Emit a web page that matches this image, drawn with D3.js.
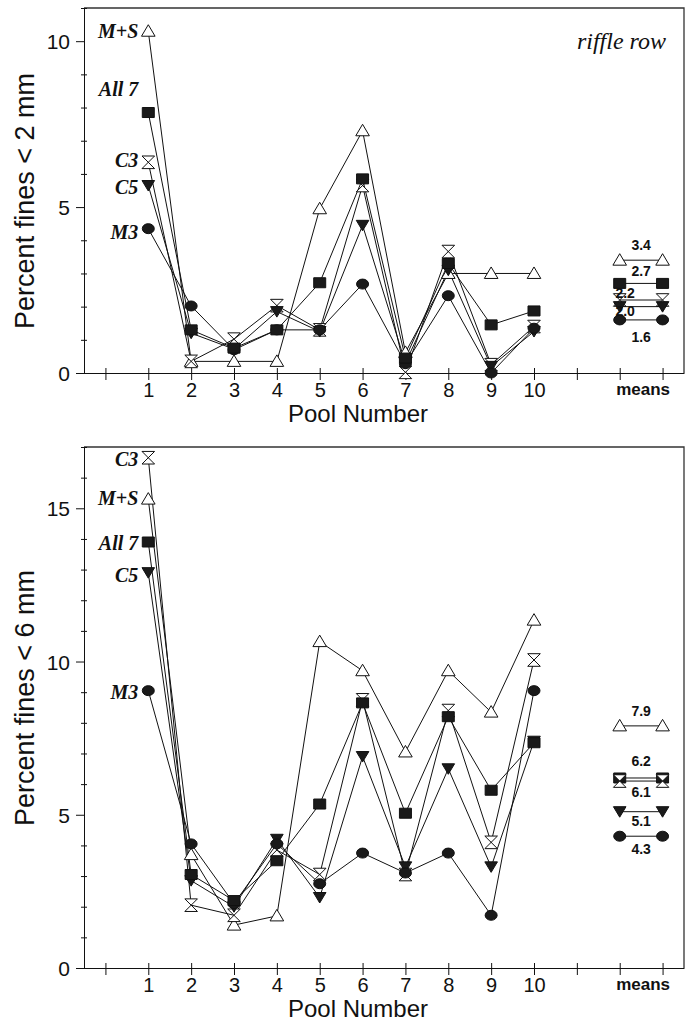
<!DOCTYPE html>
<html>
<head>
<meta charset="utf-8">
<script src="https://cdn.jsdelivr.net/npm/d3@7"></script>
<style>
  body { margin: 0; background: #fff; }
  text { font-family: "Liberation Sans", Arial, sans-serif; fill: #111; }
</style>
</head>
<body>
<svg id="chart" width="691" height="1022"></svg>
<script>
// ---- data ----
const pools = [1, 2, 3, 4, 5, 6, 7, 8, 9, 10];
const seriesNames = ["M+S", "All 7", "C3", "C5", "M3"];

// percent fines < 2 mm (riffle row)
const fines2MS   = [10.3, 0.35, 0.35, 0.35, 4.95, 7.3, 0.62, 3.0, 3.0, 3.0];
const fines2All7 = [7.85, 1.3, 0.75, 1.3, 2.72, 5.85, 0.45, 3.3, 1.45, 1.87];
const fines2C3   = [6.35, 0.35, 1.02, 2.03, 1.3, 5.65, 0.02, 3.66, 0.25, 1.4];
const fines2C5   = [5.65, 1.2, 0.72, 1.85, 1.25, 4.45, 0.3, 3.1, 0.2, 1.25];
const fines2M3   = [4.35, 2.02, 0.7, 1.3, 1.3, 2.68, 0.28, 2.33, 0.0, 1.35];
const fines2Means = [3.4, 2.7, 2.2, 2.0, 1.6];
const fines2LabelAt = [10.3, 8.55, 6.42, 5.62, 4.25];

// percent fines < 6 mm
const fines6MS   = [15.3, 3.7, 1.4, 1.7, 10.65, 9.7, 7.05, 9.7, 8.35, 11.35];
const fines6All7 = [13.9, 3.05, 2.2, 3.5, 5.35, 8.65, 5.05, 8.2, 5.8, 7.35];
const fines6C3   = [16.65, 2.05, 1.72, 3.85, 3.05, 8.75, 3.05, 8.4, 4.1, 10.05];
const fines6C5   = [12.9, 2.85, 2.0, 4.2, 2.3, 6.9, 3.3, 6.5, 3.3, 7.4];
const fines6M3   = [9.05, 4.05, 2.1, 4.05, 2.75, 3.75, 3.1, 3.75, 1.72, 9.05];
const fines6Means = [7.9, 6.2, 6.1, 5.1, 4.3];
const fines6LabelAt = [15.32, 13.86, 16.6, 12.82, 9.0];

const xTickLabels = ["", "1", "2", "3", "4", "5", "6", "7", "8", "9", "10", "", "", "means"];

// ---- layout ----
const svg = d3.select("#chart");
const xScale = d3.scaleLinear().domain([-0.5, 13.5]).range([84, 684]);
const meansX = [12, 13];

const symbolOf = {
  "M+S": "triUp",
  "All 7": "square",
  "C3": "hourglass",
  "C5": "triDown",
  "M3": "circle"
};

function markerPath(kind) {
  switch (kind) {
    case "triUp": return "M0,-6.5L6.8,5L-6.8,5Z";
    case "triDown": return "M-6.3,-5L6.3,-5L0,5.5Z";
    case "square": return "M-6,-5H6V5H-6Z";
    case "hourglass": return "M-6.3,-6.3H6.3L-6.3,6.3H6.3Z";
    default: return "M-6,0A6,5 0 1,0 6,0A6,5 0 1,0 -6,0Z";
  }
}
const isOpen = (kind) => kind === "triUp" || kind === "hourglass";

function drawMarkers(g, pts, kind) {
  g.selectAll(null)
    .data(pts)
    .enter()
    .append("path")
    .attr("transform", (d) => `translate(${d[0]},${d[1]})`)
    .attr("d", markerPath(kind))
    .attr("fill", isOpen(kind) ? "#fff" : "#1a1a1a")
    .attr("stroke", "#111")
    .attr("stroke-width", 1);
}

function drawPanel(cfg) {
  const y = d3.scaleLinear().domain([0, cfg.yMax]).range([cfg.bottom, cfg.top]);
  const g = svg.append("g");

  // frame: top and right border
  g.append("path")
    .attr("d", `M${xScale(-0.5)},${cfg.top}H${xScale(13.5)}V${cfg.bottom}`)
    .attr("fill", "none")
    .attr("stroke", "#333")
    .attr("stroke-width", 1.3);

  // y axis
  const yAxisG = g.append("g")
    .attr("transform", `translate(${xScale(-0.5)},0)`)
    .call(d3.axisLeft(y)
      .tickValues(d3.range(0, cfg.yMax + 1))
      .tickFormat((d) => (d % 5 === 0 ? d : ""))
      .tickSizeOuter(0));
  yAxisG.select(".domain").attr("stroke", "#111");
  yAxisG.selectAll(".tick line")
    .attr("x1", (d) => (d % 5 === 0 ? -8 : -3))
    .attr("x2", (d) => (d % 5 === 0 ? 1 : 3))
    .attr("stroke", "#111");
  yAxisG.selectAll(".tick text")
    .attr("x", -14)
    .attr("dy", "0.36em")
    .style("font-size", "21px")
    .style("font-family", "Liberation Sans, Arial, sans-serif")
    .attr("fill", "#111");

  // x axis
  const xAxisG = g.append("g")
    .attr("transform", `translate(0,${cfg.bottom})`)
    .call(d3.axisBottom(xScale)
      .tickValues(d3.range(0, 14))
      .tickFormat((d) => xTickLabels[d])
      .tickSizeOuter(0));
  xAxisG.select(".domain").attr("stroke", "#111");
  xAxisG.selectAll(".tick line")
    .attr("y1", -5)
    .attr("y2", 7)
    .attr("stroke", "#111");
  xAxisG.selectAll(".tick text")
    .attr("y", 24)
    .attr("dy", 0)
    .style("font-size", "20px")
    .style("font-family", "Liberation Sans, Arial, sans-serif")
    .attr("fill", "#111");
  xAxisG.selectAll(".tick text")
    .filter((d) => d === 13)
    .attr("x", -20)
    .attr("y", 22)
    .style("font-size", "17px")
    .style("font-weight", "bold");

  // axis titles
  g.append("text")
    .attr("x", 358)
    .attr("y", cfg.bottom + 49)
    .attr("text-anchor", "middle")
    .style("font-size", "24px")
    .text("Pool Number");
  g.append("text")
    .attr("transform", `translate(34,${cfg.titleY}) rotate(-90)`)
    .attr("text-anchor", "middle")
    .style("font-size", "27px")
    .text(cfg.yTitle);

  // series: lines then markers
  const line = d3.line();
  const drawOrder = ["M+S", "C3", "C5", "M3", "All 7"];
  drawOrder.forEach((name) => {
    const vals = cfg.series[name];
    const pts = pools.map((p, i) => [xScale(p), y(vals[i])]);
    g.append("path")
      .attr("d", line(pts))
      .attr("fill", "none")
      .attr("stroke", "#111")
      .attr("stroke-width", 1);
  });
  drawOrder.forEach((name) => {
    const vals = cfg.series[name];
    const pts = pools.map((p, i) => [xScale(p), y(vals[i])]);
    drawMarkers(g, pts, symbolOf[name]);
  });

  // means
  seriesNames.forEach((name, i) => {
    const m = cfg.means[i];
    const pts = meansX.map((mx) => [xScale(mx), y(m)]);
    g.append("path")
      .attr("d", line(pts))
      .attr("fill", "none")
      .attr("stroke", "#111")
      .attr("stroke-width", 1);
    drawMarkers(g, pts, symbolOf[name]);
    const pos = cfg.meanLabelPos[i];
    g.append("text")
      .attr("x", xScale(12.5) + pos.dx)
      .attr("y", y(m) + pos.dy)
      .attr("text-anchor", "middle")
      .style("font-size", "14px")
      .style("font-weight", "bold")
      .text(m.toFixed(1));
  });

  // series labels at pool 1
  seriesNames.forEach((name, i) => {
    g.append("text")
      .attr("x", xScale(1) - 10)
      .attr("y", y(cfg.labelAt[i]))
      .attr("dy", "0.35em")
      .attr("text-anchor", "end")
      .style("font-family", "Liberation Serif, Times New Roman, serif")
      .style("font-style", "italic")
      .style("font-weight", "bold")
      .style("font-size", "20px")
      .text(name);
  });

  if (cfg.note) {
    g.append("text")
      .attr("x", 666)
      .attr("y", cfg.top + 41)
      .attr("text-anchor", "end")
      .style("font-family", "Liberation Serif, Times New Roman, serif")
      .style("font-style", "italic")
      .style("font-size", "24px")
      .text(cfg.note);
  }
}

drawPanel({
  top: 8,
  bottom: 373,
  yMax: 11,
  titleY: 201,
  yTitle: "Percent fines < 2 mm",
  note: "riffle row",
  series: { "M+S": fines2MS, "All 7": fines2All7, "C3": fines2C3, "C5": fines2C5, "M3": fines2M3 },
  means: fines2Means,
  labelAt: fines2LabelAt,
  meanLabelPos: [
    { dx: 0, dy: -10 },
    { dx: 0, dy: -7 },
    { dx: -16, dy: -2 },
    { dx: -16, dy: 9 },
    { dx: 0, dy: 22 }
  ]
});

drawPanel({
  top: 447,
  bottom: 968,
  yMax: 17,
  titleY: 698,
  yTitle: "Percent fines < 6 mm",
  note: null,
  series: { "M+S": fines6MS, "All 7": fines6All7, "C3": fines6C3, "C5": fines6C5, "M3": fines6M3 },
  means: fines6Means,
  labelAt: fines6LabelAt,
  meanLabelPos: [
    { dx: 0, dy: -10 },
    { dx: 0, dy: -12 },
    { dx: 0, dy: 16 },
    { dx: 0, dy: 14 },
    { dx: 0, dy: 18 }
  ]
});
</script>
</body>
</html>
